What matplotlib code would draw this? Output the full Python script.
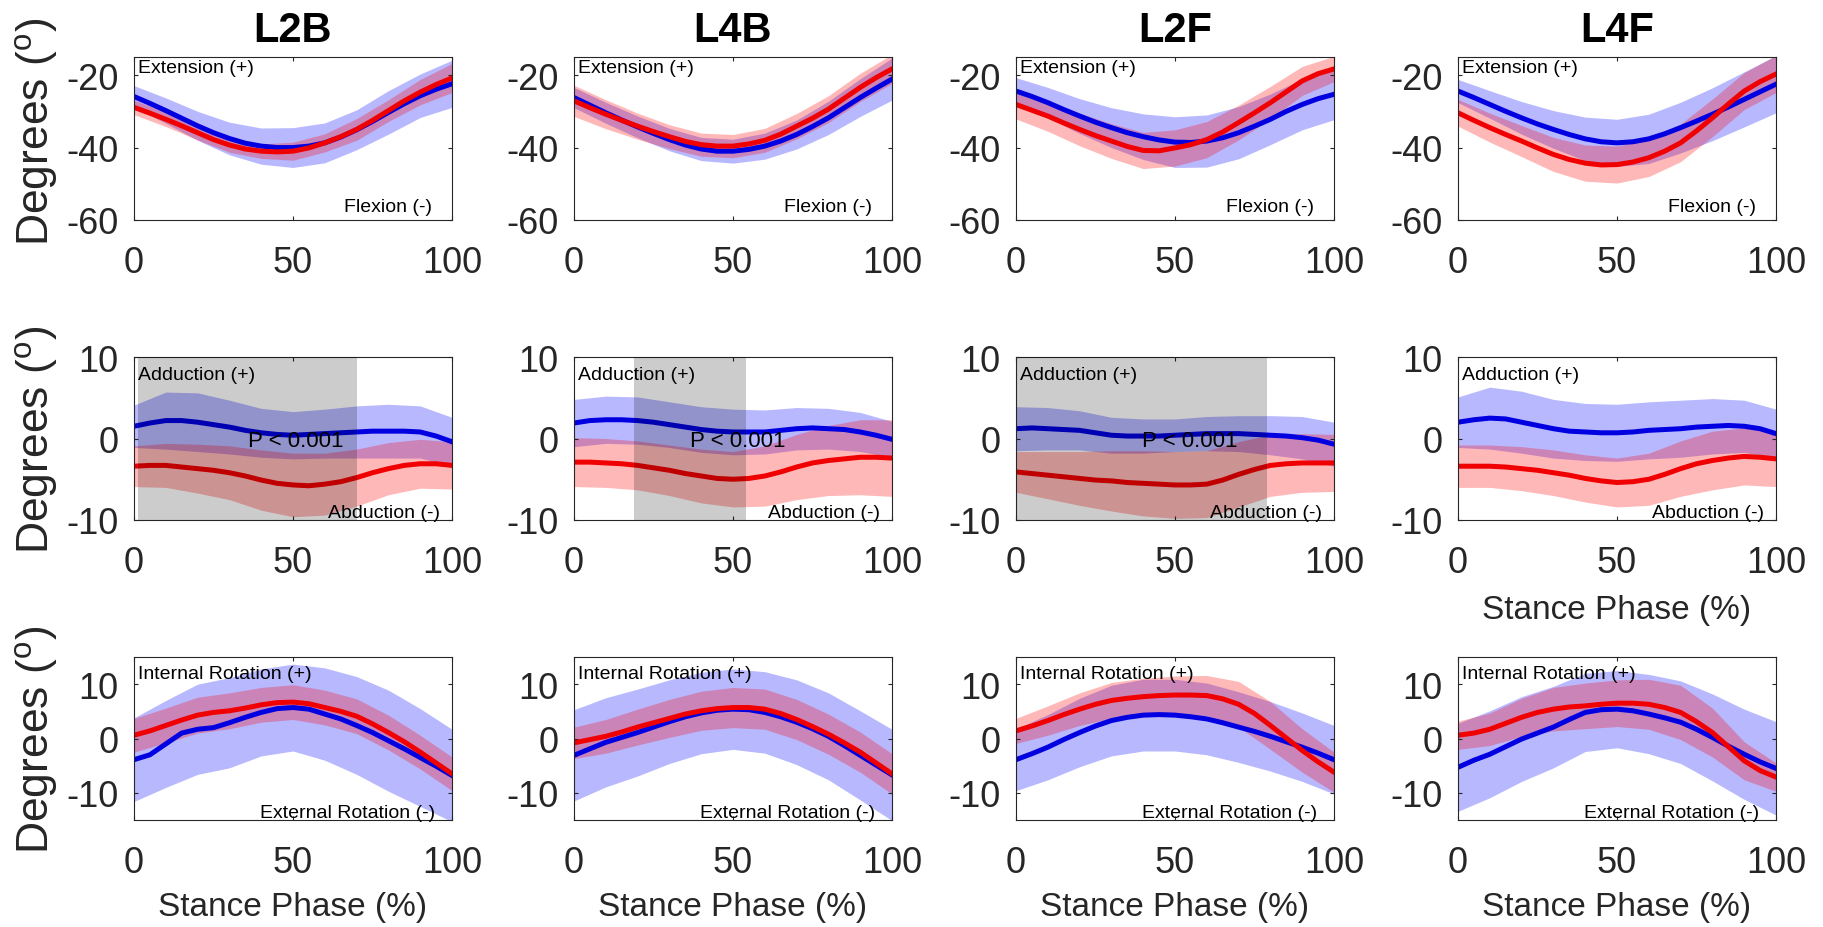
import numpy as np
import matplotlib
matplotlib.use("Agg")
import matplotlib.pyplot as plt

plt.rcParams['font.family'] = ['Liberation Sans', 'DejaVu Sans']
plt.rcParams['mathtext.default'] = 'regular'
plt.rcParams['axes.unicode_minus'] = False

# stance phase (%) for means (every 5 %) and for SD bands (every 10 %)
phase = [0, 5, 10, 15, 20, 25, 30, 35, 40, 45, 50, 55, 60, 65, 70, 75, 80, 85, 90, 95, 100]
phase_sd = [0, 10, 20, 30, 40, 50, 60, 70, 80, 90, 100]

conditions = ['L2B', 'L4B', 'L2F', 'L4F']

# ---- flexion / extension (row 1)
l2b_fe_blue = [-25.9, -27.8, -29.8, -31.9, -34.0, -35.9, -37.5, -38.8, -39.6, -40.0, -40.0, -39.6, -38.7, -37.1, -35.1, -32.8, -30.3, -27.9, -25.7, -23.9, -22.4]
l2b_fe_blue_sd = [3, 3.5, 4, 4.5, 5, 5.5, 5.5, 5.5, 6, 6, 6.5]
l2b_fe_red = [-28.9, -30.5, -32.2, -34.0, -35.9, -37.8, -39.3, -40.4, -41.0, -41.2, -41.0, -40.1, -38.7, -37.0, -35.0, -32.5, -29.8, -27.1, -24.7, -22.6, -20.8]
l2b_fe_red_sd = [2, 2, 2, 2, 2, 2.5, 2.5, 3, 3, 3.5, 4]

l4b_fe_blue = [-26.2, -28.3, -30.4, -32.4, -34.3, -36.1, -37.8, -39.3, -40.4, -41.0, -41.0, -40.5, -39.6, -38.2, -36.4, -34.2, -31.8, -29.0, -26.2, -23.6, -21.1]
l4b_fe_blue_sd = [2.8, 2.9, 3, 3.1, 3.2, 3.3, 3.6, 4, 4.6, 5.2, 5.8]
l4b_fe_red = [-27.1, -29.0, -30.8, -32.5, -34.1, -35.6, -37.0, -38.3, -39.2, -39.6, -39.6, -39.0, -38.0, -36.3, -34.1, -31.9, -29.4, -26.4, -23.4, -20.7, -18.3]
l4b_fe_red_sd = [4.3, 4, 3.6, 3.3, 3.2, 3.2, 3.3, 3.5, 3.7, 3.9, 4]

l2f_fe_blue = [-24.4, -25.9, -27.6, -29.5, -31.3, -33.0, -34.5, -35.9, -37.0, -37.9, -38.5, -38.6, -38.2, -37.3, -35.9, -34.1, -32.2, -30.0, -28.1, -26.5, -25.3]
l2f_fe_blue_sd = [3.7, 4.2, 4.8, 5.5, 6.3, 7, 7.2, 7.2, 7, 7, 7]
l2f_fe_red = [-28.1, -29.7, -31.3, -33.2, -35.0, -36.7, -38.2, -39.7, -40.8, -40.9, -40.1, -39.2, -37.8, -35.7, -33.1, -30.4, -27.6, -24.6, -21.6, -19.6, -18.3]
l2f_fe_red_sd = [4, 4.2, 4.5, 4.8, 5, 5, 5, 4.8, 4.5, 4, 3.5]

l4f_fe_blue = [-24.4, -26.2, -28.1, -30.0, -31.8, -33.5, -35.0, -36.4, -37.6, -38.4, -38.7, -38.4, -37.6, -36.2, -34.5, -32.7, -30.8, -28.8, -26.7, -24.6, -22.5]
l4f_fe_blue_sd = [3.2, 3.8, 4.5, 5.2, 6, 6.5, 6.8, 7, 7.3, 7.6, 7.9]
l4f_fe_red = [-30.4, -32.5, -34.5, -36.4, -38.2, -40.1, -41.9, -43.3, -44.3, -44.8, -44.7, -44.0, -42.8, -41.0, -38.7, -35.4, -31.8, -28.0, -24.4, -21.8, -19.7]
l4f_fe_red_sd = [3.7, 4, 4.3, 4.7, 5, 5.1, 5.2, 5.2, 5.2, 5.1, 5.1]

# ---- adduction / abduction (row 2)
l2b_aa_blue = [1.5, 1.9, 2.2, 2.2, 2.0, 1.7, 1.4, 1.0, 0.7, 0.5, 0.4, 0.5, 0.6, 0.7, 0.8, 0.9, 0.9, 0.9, 0.8, 0.3, -0.4]
l2b_aa_blue_sd = [2.6, 3.5, 3.6, 3.3, 3, 2.9, 3, 3.2, 3.3, 3.2, 3]
l2b_aa_red = [-3.4, -3.3, -3.3, -3.5, -3.7, -3.9, -4.2, -4.6, -5.1, -5.5, -5.7, -5.8, -5.6, -5.3, -4.8, -4.2, -3.7, -3.3, -3.1, -3.1, -3.3]
l2b_aa_red_sd = [2.5, 2.7, 3, 3.3, 3.7, 3.9, 3.8, 3.5, 3.2, 3, 2.9]

l4b_aa_blue = [1.9, 2.2, 2.3, 2.3, 2.2, 2.0, 1.7, 1.4, 1.1, 0.9, 0.8, 0.8, 0.8, 1.0, 1.2, 1.3, 1.2, 1.1, 0.8, 0.4, -0.1]
l4b_aa_blue_sd = [2.9, 2.9, 2.9, 2.8, 2.8, 2.8, 2.7, 2.6, 2.5, 2.4, 2.2]
l4b_aa_red = [-2.9, -2.9, -3.0, -3.1, -3.3, -3.6, -3.9, -4.3, -4.6, -4.9, -5.0, -4.9, -4.6, -4.1, -3.5, -3.0, -2.7, -2.5, -2.3, -2.3, -2.4]
l4b_aa_red_sd = [3, 3, 3, 3.1, 3.3, 3.4, 3.7, 4, 4.3, 4.6, 4.7]

l2f_aa_blue = [1.2, 1.3, 1.2, 1.1, 1.0, 0.7, 0.4, 0.3, 0.3, 0.3, 0.4, 0.5, 0.6, 0.6, 0.6, 0.5, 0.4, 0.3, 0.1, -0.2, -0.7]
l2f_aa_blue_sd = [2.7, 2.6, 2.4, 2.2, 2.1, 2, 2.1, 2.2, 2.4, 2.6, 2.7]
l2f_aa_red = [-4.1, -4.3, -4.5, -4.7, -4.9, -5.1, -5.2, -5.4, -5.5, -5.6, -5.7, -5.7, -5.6, -5.1, -4.4, -3.8, -3.3, -3.1, -3.0, -3.0, -3.0]
l2f_aa_red_sd = [2.5, 2.9, 3.3, 3.7, 4, 4.1, 4.1, 4, 3.8, 3.6, 3.5]

l4f_aa_blue = [2.0, 2.3, 2.5, 2.4, 2.0, 1.6, 1.2, 0.9, 0.8, 0.7, 0.7, 0.8, 1.0, 1.1, 1.2, 1.4, 1.5, 1.6, 1.5, 1.2, 0.6]
l4f_aa_blue_sd = [3.1, 3.8, 3.8, 3.6, 3.5, 3.5, 3.5, 3.5, 3.4, 3.2, 3.0]
l4f_aa_red = [-3.4, -3.4, -3.4, -3.5, -3.7, -3.9, -4.2, -4.5, -4.9, -5.2, -5.4, -5.3, -5.0, -4.4, -3.7, -3.1, -2.7, -2.4, -2.2, -2.3, -2.5]
l4f_aa_red_sd = [2.6, 2.6, 2.7, 2.8, 2.9, 3, 3.2, 3.4, 3.6, 3.5, 3.4]

# significant regions (% stance) in row 2
l2b_aa_sig = [1.4, 70.0]
l4b_aa_sig = [19.0, 54.0]
l2f_aa_sig = [0.3, 79.0]

# ---- internal / external rotation (row 3)
l2b_ie_blue = [-3.9, -3.0, -1.0, 1.0, 1.7, 2.0, 2.9, 3.9, 4.8, 5.5, 5.7, 5.4, 4.5, 3.6, 2.4, 1.1, -0.4, -1.9, -3.5, -5.1, -6.8]
l2b_ie_blue_sd = [7.7, 8, 8.3, 8.3, 8, 8, 8.5, 9, 9.3, 9, 8.5]
l2b_ie_red = [0.6, 1.4, 2.4, 3.4, 4.3, 4.8, 5.1, 5.6, 6.2, 6.6, 6.7, 6.4, 5.7, 5.0, 4.1, 2.7, 1.1, -0.6, -2.5, -4.5, -6.5]
l2b_ie_red_sd = [3.1, 3.2, 3.3, 3.3, 3.2, 3.2, 3.2, 3.2, 3.2, 3.1, 3.1]

l4b_ie_blue = [-3.1, -1.9, -0.7, 0.2, 1.1, 2.1, 3.1, 4.0, 4.7, 5.2, 5.4, 5.3, 4.8, 4.0, 3.0, 1.8, 0.4, -1.3, -3.1, -4.9, -6.7]
l4b_ie_blue_sd = [8.4, 8.2, 8, 7.7, 7.5, 7.4, 7.5, 7.8, 8, 8.2, 8.4]
l4b_ie_red = [-0.8, -0.2, 0.4, 1.2, 2.1, 2.9, 3.7, 4.5, 5.1, 5.5, 5.7, 5.7, 5.4, 4.6, 3.5, 2.2, 0.8, -0.8, -2.5, -4.5, -6.5]
l4b_ie_red_sd = [2.9, 3.1, 3.3, 3.5, 3.6, 3.7, 3.7, 3.7, 3.7, 3.7, 3.7]

l2f_ie_blue = [-3.9, -2.8, -1.6, -0.2, 1.1, 2.3, 3.3, 3.9, 4.3, 4.4, 4.3, 4.0, 3.6, 2.9, 2.1, 1.3, 0.4, -0.6, -1.6, -2.7, -3.9]
l2f_ie_blue_sd = [5.7, 6, 6.3, 6.5, 6.6, 6.6, 6.6, 6.5, 6.4, 6.3, 6.3]
l2f_ie_red = [1.4, 2.3, 3.3, 4.4, 5.4, 6.3, 7.0, 7.4, 7.7, 7.9, 8.0, 8.0, 7.9, 7.3, 6.3, 4.6, 2.4, 0.1, -2.2, -4.3, -6.2]
l2f_ie_red_sd = [2.3, 2.7, 3, 3.3, 3.4, 3.5, 3.7, 4.2, 4.4, 4, 3.7]

l4f_ie_blue = [-5.3, -4.0, -2.9, -1.5, -0.1, 1.0, 2.1, 3.5, 4.8, 5.3, 5.4, 5.1, 4.5, 3.8, 3.0, 1.7, 0.2, -1.4, -2.9, -4.3, -5.5]
l4f_ie_blue_sd = [8.1, 8, 7.8, 7.5, 7.2, 7.1, 7.3, 7.6, 8, 8.3, 8.6]
l4f_ie_red = [0.6, 1.0, 1.7, 2.8, 3.9, 4.8, 5.4, 5.8, 6.0, 6.3, 6.5, 6.5, 6.3, 5.7, 4.8, 3.1, 1.1, -1.5, -4.1, -5.9, -7.1]
l4f_ie_red_sd = [2.6, 3, 3.5, 4, 4.2, 4.3, 4.6, 5, 4.5, 3.5, 2.6]

panels = [
    [(l2b_fe_blue, l2b_fe_blue_sd, l2b_fe_red, l2b_fe_red_sd),
     (l4b_fe_blue, l4b_fe_blue_sd, l4b_fe_red, l4b_fe_red_sd),
     (l2f_fe_blue, l2f_fe_blue_sd, l2f_fe_red, l2f_fe_red_sd),
     (l4f_fe_blue, l4f_fe_blue_sd, l4f_fe_red, l4f_fe_red_sd)],
    [(l2b_aa_blue, l2b_aa_blue_sd, l2b_aa_red, l2b_aa_red_sd),
     (l4b_aa_blue, l4b_aa_blue_sd, l4b_aa_red, l4b_aa_red_sd),
     (l2f_aa_blue, l2f_aa_blue_sd, l2f_aa_red, l2f_aa_red_sd),
     (l4f_aa_blue, l4f_aa_blue_sd, l4f_aa_red, l4f_aa_red_sd)],
    [(l2b_ie_blue, l2b_ie_blue_sd, l2b_ie_red, l2b_ie_red_sd),
     (l4b_ie_blue, l4b_ie_blue_sd, l4b_ie_red, l4b_ie_red_sd),
     (l2f_ie_blue, l2f_ie_blue_sd, l2f_ie_red, l2f_ie_red_sd),
     (l4f_ie_blue, l4f_ie_blue_sd, l4f_ie_red, l4f_ie_red_sd)],
]
sig_spans = {(1, 0): l2b_aa_sig, (1, 1): l4b_aa_sig, (1, 2): l2f_aa_sig}

row_ylim = [(-60, -15), (-10, 10), (-15, 15)]
row_yticks = [[-60, -40, -20], [-10, 0, 10], [-10, 0, 10]]
row_text = [('Extension (+)', 'Flexion (-)'),
            ('Adduction (+)', 'Abduction (-)'),
            ('Internal Rotation (+)', 'External Rotation (-)')]
top_text_y = [0.908, 0.865, 0.871]
bot_text_x = [0.937, 0.962, 0.947]
bot_text_y = [0.055, 0.018, 0.018]

W, H = 1823, 928
col_left = [134, 574, 1016, 1458]
row_top = [58, 358, 658]
aw, ah = 318, 163
dark = '#262626'

fig = plt.figure(figsize=(W / 100, H / 100), dpi=100)

for r in range(3):
    for c in range(4):
        ax = fig.add_axes([col_left[c] / W, 1 - (row_top[r] + ah) / H, aw / W, ah / H])
        bm, bsd, rm, rsd = [np.array(v) for v in panels[r][c]]

        ax.fill_between(phase_sd, bm[::2] - bsd, bm[::2] + bsd, color='blue', alpha=0.28, lw=0)
        ax.plot(phase, bm, color='#0000e0', lw=3.6)
        ax.fill_between(phase_sd, rm[::2] - rsd, rm[::2] + rsd, color='red', alpha=0.28, lw=0)
        ax.plot(phase, rm, color='#f00000', lw=3.6)

        if (r, c) in sig_spans:
            lo, hi = sig_spans[(r, c)]
            ax.axvspan(lo, hi, color='black', alpha=0.2, lw=0, zorder=5)
            ax.text((lo + hi) / 2, -0.2, 'P < 0.001', fontsize=16, ha='left', va='center',
                    color='black', zorder=6)

        ax.text(0.012, top_text_y[r], row_text[r][0], transform=ax.transAxes,
                fontsize=14, ha='left', va='baseline', color='black', zorder=7)
        ax.text(bot_text_x[r], bot_text_y[r], row_text[r][1], transform=ax.transAxes,
                fontsize=14, ha='right', va='baseline', color='black', zorder=7)

        ax.set_xlim(0, 100)
        ax.set_ylim(*row_ylim[r])
        ax.set_xticks([0, 50, 100])
        ax.set_yticks(row_yticks[r])
        ax.tick_params(direction='in', length=3, width=0.8, top=True, right=True,
                       labelsize=26, colors=dark)
        ax.tick_params(axis='x', pad=18)
        ax.tick_params(axis='y', pad=11)
        for s in ax.spines.values():
            s.set_linewidth(0.8)
            s.set_color(dark)

        if r == 0:
            ax.set_title(conditions[c], fontsize=30, fontweight='bold', pad=11.5)
        if c == 0:
            ax.set_ylabel('Degrees ($^{o}$)', fontsize=32, color=dark)
            ax.yaxis.set_label_coords(-0.232, 0.55 if r == 0 else 0.5)
        if r == 2 or (r == 1 and c == 3):
            ax.set_xlabel('Stance Phase (%)', fontsize=24, color=dark,
                          labelpad=8 if r == 2 else 10)

fig.savefig('out.png', dpi=100)
